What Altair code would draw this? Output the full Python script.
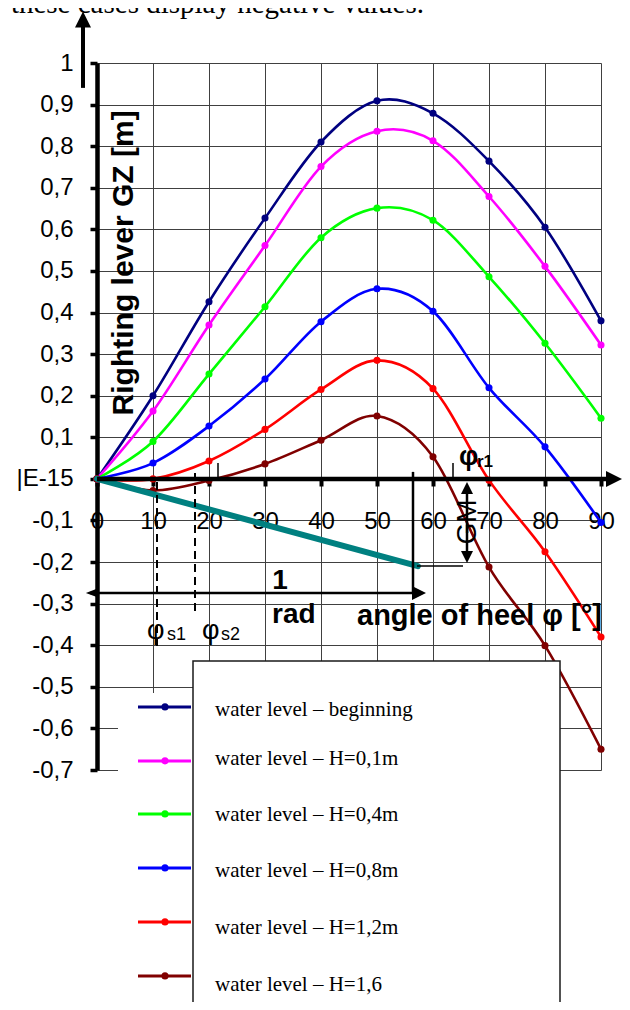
import altair as alt
import pandas as pd

# ---------------- data ----------------
angles = [0, 10, 20, 30, 40, 50, 60, 70, 80, 90]
series_names = [
    "water level – beginning",
    "water level – H=0,1m",
    "water level – H=0,4m",
    "water level – H=0,8m",
    "water level – H=1,2m",
    "water level – H=1,6",
]
series_colors = ["#000080", "#FF00FF", "#00FF00", "#0000FF", "#FF0000", "#800000"]
gz_beginning = [0, 0.200, 0.426, 0.627, 0.810, 0.909, 0.879, 0.764, 0.605, 0.380]
gz_h01 = [0, 0.163, 0.370, 0.561, 0.751, 0.836, 0.813, 0.679, 0.511, 0.322]
gz_h04 = [0, 0.090, 0.252, 0.414, 0.580, 0.651, 0.622, 0.486, 0.326, 0.146]
gz_h08 = [0, 0.038, 0.127, 0.240, 0.378, 0.457, 0.403, 0.219, 0.077, -0.105]
gz_h12 = [0, 0.000, 0.043, 0.119, 0.215, 0.285, 0.217, -0.003, -0.175, -0.380]
gz_h16 = [0, -0.028, -0.004, 0.036, 0.093, 0.151, 0.053, -0.212, -0.401, -0.650]
y_ticks = [round(-0.7 + 0.1 * i, 1) for i in range(18)]
one_rad = 57.3      # degrees in 1 rad
gm_value = 0.21     # metacentric height read at 1 rad

all_series = [gz_beginning, gz_h01, gz_h04, gz_h08, gz_h12, gz_h16]
rows = []
for name, vals in zip(series_names, all_series):
    for a, v in zip(angles, vals):
        rows.append({"series": name, "angle": a, "gz": v})
df = pd.DataFrame(rows)

# ---------------- layout helpers (page pixels -> data units) ----------------
PX0, PX_PER_DEG = 97.0, 5.6
PY0, PY_PER_UNIT = 479.0, 707.0 / 1.7


def dx(p):
    return (p - PX0) / PX_PER_DEG


def dy(p):
    return (PY0 - p) / PY_PER_UNIT


xs = alt.Scale(domain=[0, 90], nice=False, zero=False)
ys = alt.Scale(domain=[-0.7, 1.0], nice=False, zero=False)
cscale = alt.Scale(domain=series_names, range=series_colors)
SANS = "Liberation Sans"
SERIF = "Liberation Serif"

x_axis = alt.Axis(values=angles, title=None, grid=True, gridColor="#404040", gridWidth=1,
                  domain=False, ticks=True, tickSize=7, tickWidth=4, tickColor="black",
                  labelFont=SANS, labelFontSize=24, labelColor="black", labelPadding=35,
                  labelBaseline="middle", labelFlush=False, labelOverlap=False, offset=-291)
y_axis = alt.Axis(values=y_ticks, title=None, grid=True, gridColor="#404040", gridWidth=1,
                  domain=True, domainColor="black", domainWidth=4.5,
                  ticks=True, tickSize=7, tickWidth=3.5, tickColor="black",
                  labelFont=SANS, labelFontSize=24, labelColor="black", labelPadding=17,
                  labelFlush=False, labelOverlap=False,
                  labelExpr="datum.value == 0 ? '|E-15' : (datum.value < 0 ? '-' : '') + replace(format(abs(datum.value), '.1~f'), '.', ',')")


def X(field):
    return alt.X(field, scale=xs, axis=x_axis)


def Y(field):
    return alt.Y(field, scale=ys, axis=y_axis)


lines = alt.Chart(df).mark_line(interpolate="cardinal", strokeWidth=2.6).encode(
    x=X("angle:Q"), y=Y("gz:Q"),
    color=alt.Color("series:N", scale=cscale, legend=None),
)
points = alt.Chart(df).mark_circle(size=50, opacity=1).encode(
    x=X("angle:Q"), y=Y("gz:Q"),
    color=alt.Color("series:N", scale=cscale, legend=None),
)


def rules(segs, color="black", width=2.0, dash=None, cap="butt"):
    d = pd.DataFrame(segs, columns=["x", "y", "x2", "y2"])
    kw = dict(color=color, strokeWidth=width, strokeCap=cap)
    if dash:
        kw["strokeDash"] = dash
    return alt.Chart(d).mark_rule(**kw).encode(
        x=X("x:Q"), y=Y("y:Q"), x2="x2:Q", y2="y2:Q")


def px_seg(x1, y1, x2, y2):
    return (dx(x1), dy(y1), dx(x2), dy(y2))


def heads(pts, shape, size):
    d = pd.DataFrame([(dx(a), dy(b)) for a, b in pts], columns=["x", "y"])
    return alt.Chart(d).mark_point(shape=shape, size=size, filled=True, color="black",
                                   opacity=1, strokeWidth=0).encode(x=X("x:Q"), y=Y("y:Q"))


def texts(items, font=SANS, bold=False, align="left", baseline="alphabetic", angle=0):
    d = pd.DataFrame([(dx(a), dy(b), t, fs) for a, b, t, fs in items],
                     columns=["x", "y", "t", "fs"])
    mk = dict(font=font, align=align, baseline=baseline, color="black", angle=angle)
    if bold:
        mk["fontWeight"] = "bold"
    return alt.Chart(d).mark_text(**mk).encode(
        x=X("x:Q"), y=Y("y:Q"),
        text="t:N", size=alt.Size("fs:Q", scale=None, legend=None))


UP = "M0,-1L1,1L-1,1Z"
DOWN = "M0,1L1,-1L-1,-1Z"
RIGHT = "M1,0L-1,-1L-1,1Z"
LEFT = "M-1,0L1,-0.75L1,0.75Z"

# teal GM line: from origin to 1 rad
teal = alt.Chart(pd.DataFrame([{"x": 0, "y": 0, "x2": one_rad, "y2": -gm_value}])).mark_rule(
    color="#008080", strokeWidth=6, strokeCap="round").encode(
    x=X("x:Q"), y=Y("y:Q"), x2="x2:Q", y2="y2:Q")

axis_lines = rules([px_seg(97, 479, 608, 479)], width=4.5)
top_arrow = rules([px_seg(83, 26, 83, 88)], width=4)
thin_lines = rules([
    px_seg(90, 593, 420, 593),   # 1 rad arrow
    px_seg(413, 472, 413, 593),  # vertical at 1 rad
    px_seg(467, 490, 467, 556),  # GM arrow
], width=2.5)
fine_lines = rules([
    px_seg(417, 566, 463, 566),
    px_seg(218, 463, 218, 479),
    px_seg(453, 463, 453, 479),
], width=1.5)
dashed = rules([px_seg(157, 482, 157, 650), px_seg(195, 473, 195, 613)], width=2, dash=[8, 5])

arrow_heads = alt.layer(
    heads([(83, 19.5)], UP, 256),
    heads([(614, 479)], RIGHT, 256),
    heads([(467, 488)], UP, 144),
    heads([(467, 557)], DOWN, 144),
    heads([(419, 593)], RIGHT, 196),
    heads([(92, 593)], LEFT, 150),
)

labels = alt.layer(
    texts([(424, 13, "these cases display negative values.", 29)], font=SERIF, align="right"),
    texts([(124, 263, "Righting lever GZ [m]", 30)], bold=True, align="center",
          baseline="middle", angle=270),
    texts([(357, 625, "angle of heel φ [°]", 29)], bold=True),
    texts([(280, 589, "1", 28)], bold=True, align="center"),
    texts([(272, 623, "rad", 28)], bold=True),
    texts([(459, 465, "φ", 27)], bold=True),
    texts([(477, 467, "r1", 17)], bold=True),
    texts([(147, 639, "φ", 27), (202, 639, "φ", 27)]),
    texts([(167, 640, "s1", 18), (221, 640, "s2", 18)]),
    texts([(468, 522, "GM", 28)], align="center", baseline="middle", angle=270),
)

# legend (drawn as marks)
legend_bg = alt.Chart(pd.DataFrame([{"x": dx(118), "x2": dx(559), "y": dy(693), "y2": dy(1020)}])).mark_rect(
    color="white").encode(x=X("x:Q"), x2="x2:Q", y=Y("y:Q"), y2="y2:Q")
legend_box = alt.Chart(pd.DataFrame([{"x": dx(193), "x2": dx(560), "y": dy(661), "y2": dy(1020)}])).mark_rect(
    fill="white", stroke="#1a1a1a", strokeWidth=1.5).encode(
    x=X("x:Q"), x2="x2:Q", y=Y("y:Q"), y2="y2:Q")
sym_y = [707, 761, 814, 868, 922, 976]
lab_y = [710, 759, 815, 871, 928, 985]
leg = pd.DataFrame({
    "series": series_names,
    "x": [dx(138)] * 6, "x2": [dx(191)] * 6, "xm": [dx(165)] * 6,
    "y": [dy(v) for v in sym_y], "ly": [dy(v) for v in lab_y],
    "lx": [dx(215)] * 6,
})
leg_lines = alt.Chart(leg).mark_rule(strokeWidth=3).encode(
    x=X("x:Q"), x2="x2:Q", y=Y("y:Q"),
    color=alt.Color("series:N", scale=cscale, legend=None))
leg_pts = alt.Chart(leg).mark_circle(size=50, opacity=1).encode(
    x=X("xm:Q"), y=Y("y:Q"),
    color=alt.Color("series:N", scale=cscale, legend=None))
leg_text = alt.Chart(leg).mark_text(font=SERIF, fontSize=21, align="left", baseline="middle",
                                    color="black").encode(
    x=X("lx:Q"), y=Y("ly:Q"), text="series:N")

chart = alt.layer(
    lines, points, teal, axis_lines, top_arrow, thin_lines, fine_lines, dashed,
    arrow_heads, labels, legend_bg, legend_box, leg_lines, leg_pts, leg_text,
).properties(
    width=504, height=707,
    padding={"left": 89, "top": 55, "right": 21, "bottom": 232},
    autosize=alt.AutoSizeParams(type="none"),
).configure_view(stroke=None).configure(background="white")

chart.save("out.html", embed_options={"renderer": "svg", "actions": False})
